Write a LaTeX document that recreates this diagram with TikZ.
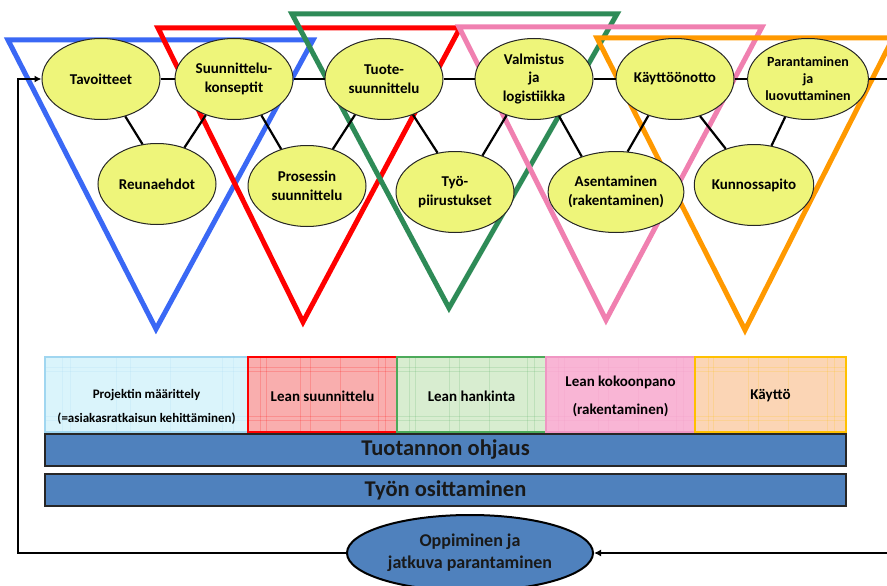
\documentclass[tikz,border=0pt]{standalone}
\usepackage{fontspec}
\setmainfont{Carlito}
\usetikzlibrary{shapes.geometric,arrows.meta}
\definecolor{triblue}{RGB}{58,104,245}
\definecolor{trired}{RGB}{255,0,0}
\definecolor{trigreen}{RGB}{46,139,87}
\definecolor{tripink}{RGB}{240,128,176}
\definecolor{triorange}{RGB}{255,153,0}
\definecolor{ellyel}{RGB}{238,245,122}
\definecolor{barblue}{RGB}{79,129,189}
\definecolor{phAf}{RGB}{218,244,251}
\definecolor{phAd}{RGB}{160,214,240}
\definecolor{phBf}{RGB}{249,174,174}
\definecolor{phBd}{RGB}{255,0,0}
\definecolor{phCf}{RGB}{216,237,208}
\definecolor{phCd}{RGB}{76,170,90}
\definecolor{phDf}{RGB}{249,181,213}
\definecolor{phDd}{RGB}{240,150,195}
\definecolor{phEf}{RGB}{251,213,181}
\definecolor{phEd}{RGB}{255,192,0}
\tikzset{
  tri/.style={line width=5pt, line join=miter},
  el/.style={ellipse, draw=black!85, line width=1pt, fill=ellyel, minimum width=118pt, minimum height=81pt, inner sep=0pt, align=center, font=\bfseries\fontsize{15}{18.5}\selectfont},
  link/.style={line width=2.2pt, black},
  phase/.style={rectangle, line width=1.5pt, minimum height=75pt, inner sep=0pt, align=center, font=\bfseries\fontsize{15}{28}\selectfont},
  gridline/.style={line width=0.8pt, opacity=0.18},
  bar/.style={rectangle, draw=black!85, line width=1.8pt, fill=barblue, minimum width=801pt, minimum height=32pt, inner sep=0pt, font=\bfseries\fontsize{22.5}{26}\selectfont, text=black!90},
  loopline/.style={line width=2.2pt, black},
  tipend/.style={-{Latex[length=7pt,width=7pt]}}
}
\begin{document}
\begin{tikzpicture}[x=1pt,y=-1pt]
\useasboundingbox (0,0) rectangle (887,586);
\clip (0,0) rectangle (887,586);

% triangles
\draw[tri, triblue] (8,40) -- (313,40) -- (156,329) -- cycle;
\draw[tri, trired] (158,28) -- (460,28) -- (303,322) -- cycle;
\draw[tri, trigreen] (292,14) -- (617,14) -- (449,308) -- cycle;
\draw[tri, tripink] (459,27) -- (762,27) -- (606,320) -- cycle;
\draw[tri, triorange] (597,38) -- (893,38) -- (745,330) -- cycle;

% ellipses
\node[el] (tav) at (101,79) {Tavoitteet};
\node[el] (suk) at (234,79) {Suunnittelu-\\konseptit};
\node[el] (tuo) at (384,79) {Tuote-\\suunnittelu};
\node[el] (val) at (534,79) {Valmistus\\ja\\logistiikka};
\node[el] (kay) at (675,79) {Käyttöönotto};
\node[el, font=\bfseries\fontsize{14}{17}\selectfont] (par) at (808,79) {Parantaminen\\ja\\luovuttaminen};
\node[el] (reu) at (157,184) {Reunaehdot};
\node[el] (pro) at (307,186) {Prosessin\\suunnittelu};
\node[el] (tyo) at (455,192) {Työ-\\piirustukset};
\node[el] (ase) at (616,192) {Asentaminen\\(rakentaminen)};
\node[el] (kun) at (754,185) {Kunnossapito};

% horizontal connectors
\draw[link] (tav) -- (suk);
\draw[link] (suk) -- (tuo);
\draw[link] (tuo) -- (val);
\draw[link] (val) -- (kay);
\draw[link] (kay) -- (par);

% diagonal connectors
\draw[link] (tav.-57) -- (reu.110);
\draw[link] (suk.-128) -- (reu.53);
\draw[link] (suk.-53) -- (pro.125);
\draw[link] (tuo.-129) -- (pro.55);
\draw[link] (tuo.-51) -- (tyo.114);
\draw[link] (val.-127) -- (tyo.53);
\draw[link] (val.-56) -- (ase.134);
\draw[link] (kay.-126) -- (ase.74);
\draw[link] (kay.-56) -- (kun.128);
\draw[link] (par.-121) -- (kun.66);

% phase boxes
\node[phase, fill=phAf, draw=phAd, minimum width=203pt] (p1) at (146.5,394.5) {};
\node[phase, fill=phBf, draw=phBd, minimum width=149pt] (p2) at (322.5,394.5) {};
\node[phase, fill=phCf, draw=phCd, minimum width=149pt] (p3) at (471.5,394.5) {};
\node[phase, fill=phDf, draw=phDd, minimum width=149pt] (p4) at (620.5,394.5) {};
\node[phase, fill=phEf, draw=phEd, minimum width=151pt] (p5) at (770.5,394.5) {};
\foreach \xa/\xb/\cc in {46/247/phAd, 249/396/phBd, 398/545/phCd, 547/694/phDd, 696/845/phEd}{
  \foreach \yy in {367,371,416,420}
    \draw[gridline, \cc] (\xa,\yy) -- (\xb,\yy);
  \foreach \ff in {0.08,0.12,0.35,0.42,0.62,0.88,0.93}
    \draw[gridline, \cc] ({\xa+\ff*(\xb-\xa)},358) -- ({\xa+\ff*(\xb-\xa)},431);
}
\node[font=\bfseries\fontsize{13}{24}\selectfont, align=center] (p1t) at (146.5,407) {Projektin määrittely\\(=asiakasratkaisun kehittäminen)};
\node[phase] (p2t) at (322.5,396) {Lean suunnittelu};
\node[phase] (p3t) at (471.5,396) {Lean hankinta};
\node[phase] (p4t) at (620.5,396) {Lean kokoonpano\\(rakentaminen)};
\node[phase] (p5t) at (770.5,396) {Käyttö};

% bars
\node[bar] (ohj) at (445.5,450) {Tuotannon ohjaus};
\node[bar] (osi) at (445.5,490) {Työn osittaminen};

% bottom ellipse
\node[ellipse, draw=black, line width=2pt, fill=barblue, minimum width=246pt, minimum height=76pt, inner sep=0pt, align=center, text=black!90, font=\bfseries\fontsize{18}{22}\selectfont] (opp) at (470,553) {Oppiminen ja\\jatkuva parantaminen};

% loop lines
\coordinate (cT) at (18,79);
\coordinate (cR) at (887,553);
\coordinate (cTR) at (887,79);
\draw[loopline, tipend] (opp.west) -| (cT) -- (tav.west);
\draw[loopline, tipend] (cR) -- (opp.east);
\draw[link] (par.east) -- (cTR);
\end{tikzpicture}
\end{document}
